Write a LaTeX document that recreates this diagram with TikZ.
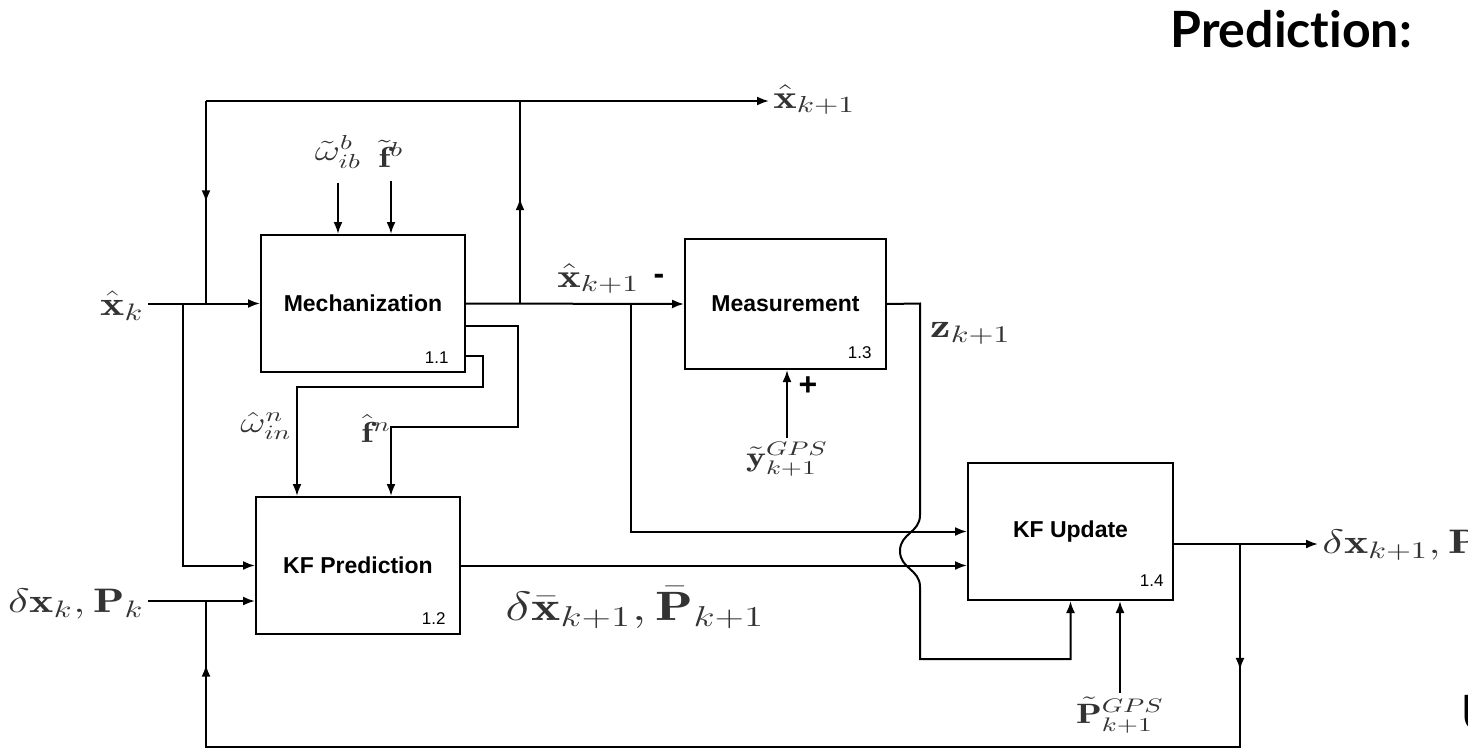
\RequirePackage{fix-cm}
\documentclass[tikz,border=0pt]{standalone}
\usepackage{amsmath}
\usepackage{fontspec}
\usepackage{graphicx}
\usepackage{xcolor}
\usepackage{tikz}
\usetikzlibrary{calc,arrows.meta,decorations.markings}
\newfontfamily\blockfont{Liberation Sans}
\newfontfamily\headfont{Lato}[Ligatures=NoCommon]
\definecolor{labelGrey}{HTML}{333333}
\newcommand{\wmath}[1]{\scalebox{1.35}[1]{$#1$}}
\tikzset{
  blockbox/.style={rectangle, draw=black, line width=1pt, align=center, font=\blockfont\bfseries\fontsize{11.5}{13}\selectfont, minimum width=102pt, minimum height=68.5pt, inner sep=0pt},
  blocknum/.style={font=\blockfont\fontsize{8.5}{10}\selectfont, anchor=base east, inner sep=0pt},
  mathlabel/.style={text=labelGrey, font=\fontsize{16.5}{19}\selectfont, inner sep=2pt},
  smalllabel/.style={mathlabel, font=\fontsize{14.5}{17}\selectfont},
  signlabel/.style={font=\blockfont\bfseries\fontsize{16}{18}\selectfont, inner sep=0pt},
  headlabel/.style={font=\headfont\bfseries\fontsize{25}{29}\selectfont, inner sep=0pt},
  flowline/.style={line width=1pt, draw=black},
  flowarrow/.style={flowline, -{Latex[length=6pt,width=4.5pt]}},
  % --- arrow heads placed along a line ---
  midarrow/.style={flowline, postaction={decorate}, decoration={markings, mark=at position #1 with {\arrow{Latex[length=6pt,width=4.5pt]}}}},
  feedarrow/.style 2 args={flowline, postaction={decorate}, decoration={markings, mark=at position #1 with {\arrow{Latex[length=6pt,width=4.5pt]}}, mark=at position #2 with {\arrow{Latex[length=6pt,width=4.5pt]}}}},
}

\begin{document}
\begin{tikzpicture}[x=0.5pt,y=-0.5pt]
  \useasboundingbox (0,0) rectangle (1468,750);
  \node[headlabel, anchor=base west] (predhead) at (1170,47) {Prediction:};
  \node[headlabel, anchor=base west] (updhead) at (1461,731) {U};

  \node[blockbox] (mech) at (363,303.5) {Mechanization};
  \node[blockbox] (kfpred) at (358,565.5) {KF Prediction};
  \node[blockbox, minimum width=100.5pt, minimum height=65pt] (meas) at (785.5,304) {Measurement};
  \node[blockbox, minimum width=102.5pt] (kfupd) at (1070.5,531.5) {KF Update};

  \node[blocknum] (num11) at ($(mech.south east)+(-17,-10)$) {1.1};
  \node[blocknum] (num12) at ($(kfpred.south east)+(-15,-11)$) {1.2};
  \node[blocknum] (num13) at ($(meas.south east)+(-15,-12)$) {1.3};
  \node[blocknum] (num14) at ($(kfupd.south east)+(-10,-15)$) {1.4};

  \node[mathlabel, anchor=base east, font=\fontsize{17}{20}\selectfont] (xk) at (148,315) {\wmath{\hat{\mathbf{x}}_k}};
  \node[mathlabel, anchor=base east, font=\fontsize{17}{20}\selectfont] (dxk) at (148,612) {\wmath{\delta\mathbf{x}_k,\mathbf{P}_k}};
  \node[mathlabel, anchor=base west] (xnext) at (769,108) {\wmath{\hat{\mathbf{x}}_{k+1}}};
  \node[smalllabel, anchor=base] (wib) at (338,160) {\wmath{\tilde{\omega}^b_{ib}}};
  \node[smalllabel, anchor=base] (fb) at (391,167) {\wmath{\tilde{\mathbf{f}}^b}};
  \node[smalllabel, anchor=base] (win) at (266,432) {\wmath{\hat{\omega}^n_{in}}};
  \node[smalllabel, anchor=base] (fn) at (376,442) {\wmath{\hat{\mathbf{f}}^n}};
  \node[mathlabel, anchor=base west] (xpred) at (553,287) {\wmath{\hat{\mathbf{x}}_{k+1}}};
  \node[signlabel] (minus) at (659,279) {-};
  \node[signlabel] (plus) at (808,386) {+};
  \node[mathlabel, anchor=base west, font=\fontsize{17}{20}\selectfont] (zk) at (926,337) {\wmath{\mathbf{z}_{k+1}}};
  \node[mathlabel, anchor=base, font=\fontsize{14}{17}\selectfont] (ygps) at (787,466) {\wmath{\tilde{\mathbf{y}}^{GPS}_{k+1}}};
  \node[mathlabel, anchor=base, font=\fontsize{14}{17}\selectfont] (pgps) at (1120,723) {\wmath{\tilde{\mathbf{P}}^{GPS}_{k+1}}};
  \node[mathlabel, anchor=base west, font=\fontsize{20.5}{24}\selectfont] (dxbar) at (501,620) {\wmath{\delta\bar{\mathbf{x}}_{k+1},\bar{\mathbf{P}}_{k+1}}};
  \node[mathlabel, anchor=base west, font=\fontsize{17}{20}\selectfont] (dxout) at (1318,553) {\wmath{\delta\mathbf{x}_{k+1},\mathbf{P}_{k+1}}};

  \coordinate (jxk) at (183,303.5);
  \coordinate (jloop) at (206,303.5);
  \coordinate (tl) at (206,101);
  \coordinate (tr) at (520,101);
  \coordinate (jup) at (520,303.5);
  \coordinate (jmeas) at (631,303.5);
  \coordinate (fnturn) at (518,427);
  \coordinate (fndrop) at (391,427);
  \coordinate (wnturn) at (483,387);
  \coordinate (wndrop) at (297,387);
  \coordinate (jdx) at (206,601);
  \coordinate (jout) at (1240,544);
  \coordinate (fbcorner) at (1240,747);
  \coordinate (fbleft) at (206,747);
  \coordinate (zturn) at (920,303.5);
  \coordinate (wigtop) at (920,515);
  \coordinate (wigmid) at (900,551);
  \coordinate (wigbot) at (920,587);
  \coordinate (zbot) at (920,659);

  \draw[flowarrow] (xk.east |- mech.west) -- (mech.west);
  \draw[flowarrow] (jxk) |- (kfpred.west);
  \draw[flowarrow] (dxk.east |- jdx) -- (jdx -| kfpred.west);
  \draw[flowarrow] ([yshift=-5pt]wib.south) -- (wib.south |- mech.north);
  \draw[flowarrow] ([yshift=-5pt]fb.south) -- (fb.south |- mech.north);
  \draw[flowarrow] (mech.east) -- (meas.west);
  \draw[midarrow=0.52] (jup) -- (tr);
  \draw[flowarrow] (tl) -- (tl -| xnext.west);
  \draw[midarrow=0.5] (tl) -- (jloop);
  \draw[flowarrow] ($(mech.east)+(0,22.5)$) -| (fnturn) -- (fndrop) -- (fndrop |- kfpred.north);
  \draw[flowarrow] ($(mech.east)+(0,52.5)$) -| (wnturn) -- (wndrop) -- (wndrop |- kfpred.north);
  \draw[flowarrow] (jmeas) |- (kfupd.west);
  \draw[flowarrow] (ygps.north) -- (ygps.north |- meas.south);
  \draw[flowarrow] (meas.east) -- (zturn) -- (wigtop) .. controls +(0,18) and +(0,-18) .. (wigmid) .. controls +(0,18) and +(0,-18) .. (wigbot) -- (zbot) -| (kfupd.south);
  \draw[flowarrow] (kfpred.east) -- (kfpred.east -| kfupd.west);
  \draw[flowarrow] (pgps.north) -- (pgps.north |- kfupd.south);
  \draw[flowarrow] (jout -| kfupd.east) -- (jout -| dxout.west);
  \draw[feedarrow={0.091}{0.954}] (jout) -- (fbcorner) -- (fbleft) -- (jdx);
\end{tikzpicture}
\end{document}
